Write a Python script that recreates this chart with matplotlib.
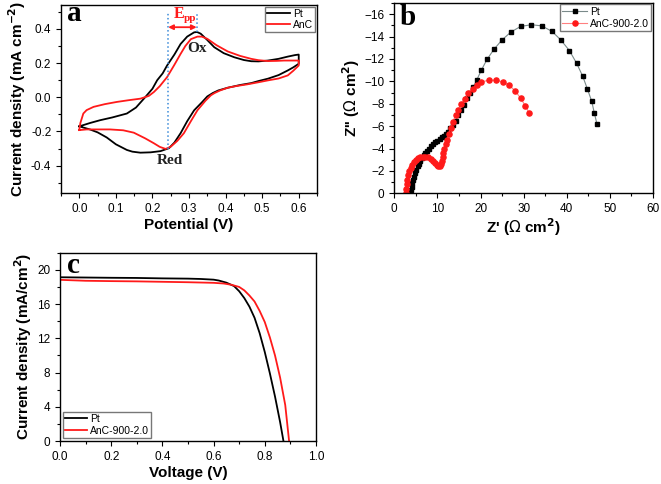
import matplotlib
matplotlib.use("Agg")
import matplotlib.pyplot as plt
from matplotlib.ticker import MultipleLocator, FormatStrFormatter

plt.rcParams['font.family'] = ['Liberation Sans', 'DejaVu Sans']
plt.rcParams['axes.linewidth'] = 1.0

# ---- panel a: cyclic voltammetry (potential V, current mA cm-2)
cv_pt_x = [0, 0.03, 0.057, 0.09, 0.13, 0.155, 0.18, 0.2, 0.213, 0.228, 0.24, 0.26, 0.277, 0.295,
           0.314, 0.322, 0.332, 0.35, 0.369, 0.395, 0.424, 0.45, 0.47, 0.49, 0.516, 0.545, 0.57,
           0.59, 0.6, 0.6, 0.585, 0.57, 0.545, 0.516, 0.49, 0.47, 0.44, 0.406, 0.38, 0.365, 0.35,
           0.335, 0.314, 0.295, 0.277, 0.26, 0.245, 0.222, 0.195, 0.167, 0.145, 0.13, 0.1, 0.075,
           0.05, 0.029, 0.0]
cv_pt_y = [-0.17, -0.15, -0.134, -0.118, -0.095, -0.06, 0.0, 0.05, 0.1, 0.14, 0.186, 0.25, 0.312,
           0.355, 0.38, 0.382, 0.372, 0.335, 0.293, 0.258, 0.234, 0.218, 0.211, 0.21, 0.215, 0.225,
           0.238, 0.247, 0.25, 0.196, 0.175, 0.157, 0.13, 0.109, 0.095, 0.083, 0.072, 0.056, 0.04,
           0.025, 0.005, -0.03, -0.076, -0.14, -0.21, -0.265, -0.298, -0.315, -0.322, -0.324,
           -0.318, -0.308, -0.275, -0.235, -0.205, -0.188, -0.17]
cv_anc_x = [0, 0.003, 0.011, 0.02, 0.039, 0.07, 0.103, 0.135, 0.167, 0.19, 0.204, 0.22, 0.24, 0.26,
            0.277, 0.29, 0.305, 0.323, 0.335, 0.35, 0.375, 0.406, 0.44, 0.47, 0.49, 0.516, 0.54,
            0.56, 0.58, 0.6, 0.6, 0.585, 0.57, 0.545, 0.516, 0.49, 0.46, 0.43, 0.406, 0.385, 0.37,
            0.36, 0.345, 0.323, 0.305, 0.286, 0.268, 0.25, 0.236, 0.22, 0.204, 0.18, 0.149, 0.12,
            0.084, 0.05, 0.02, 0]
cv_anc_y = [-0.19, -0.15, -0.095, -0.075, -0.056, -0.04, -0.027, -0.017, -0.008, 0.008, 0.031,
            0.065, 0.118, 0.19, 0.254, 0.3, 0.34, 0.355, 0.355, 0.342, 0.305, 0.268, 0.242, 0.225,
            0.217, 0.212, 0.213, 0.215, 0.215, 0.215, 0.186, 0.155, 0.128, 0.11, 0.099, 0.088,
            0.076, 0.066, 0.056, 0.04, 0.025, 0.012, -0.02, -0.076, -0.14, -0.21, -0.255, -0.289,
            -0.302, -0.29, -0.269, -0.24, -0.207, -0.193, -0.188, -0.188, -0.188, -0.192]
epp_x = [0.243, 0.321]

# ---- panel b: Nyquist plot (Z' and Z'' in ohm cm2, Z'' negative)
eis_pt_x = [3.72, 3.85, 4.0, 4.2, 4.4, 4.6, 4.85, 5.1, 5.4, 5.7, 6.0, 6.4, 6.8, 7.2, 7.6, 8.0, 8.5,
            9.0, 9.5, 10.0, 10.5, 11.0, 11.5, 12.0, 12.5, 13.0, 13.6, 14.2, 14.8, 15.5, 16.2, 16.9,
            17.6, 18.3, 19.1, 20.2, 21.5, 23.1, 25.0, 27.05, 29.3, 31.8, 34.2, 36.6, 38.6, 40.6,
            42.3, 43.7, 44.8, 45.8, 46.4, 47.0]
eis_pt_y = [0, -0.3, -0.6, -0.9, -1.2, -1.5, -1.8, -2.1, -2.4, -2.65, -2.9, -3.15, -3.4, -3.6,
            -3.8, -4.0, -4.2, -4.4, -4.55, -4.7, -4.85, -5.0, -5.15, -5.3, -5.5, -5.8, -6.1, -6.5,
            -6.95, -7.4, -7.9, -8.5, -9.0, -9.5, -10.1, -11.0, -11.95, -12.85, -13.7, -14.4, -14.9,
            -15.05, -14.95, -14.45, -13.7, -12.75, -11.6, -10.45, -9.3, -8.2, -7.15, -6.2]
eis_anc_x = [2.63, 2.75, 2.9, 3.05, 3.25, 3.5, 3.8, 4.1, 4.5, 5.0, 5.5, 6.0, 6.6, 7.2, 7.8, 8.4,
             8.9, 9.4, 9.8, 10.2, 10.5, 10.8, 11.0, 11.2, 11.4, 11.6, 11.9, 12.2, 12.6, 13.1, 13.6,
             14.2, 14.8, 15.5, 16.35, 17.2, 18.2, 19.1, 20.2, 22.0, 23.6, 25.1, 26.65, 28.0, 29.3,
             30.4, 31.3]
eis_anc_y = [0, -0.4, -0.8, -1.2, -1.6, -2.0, -2.3, -2.55, -2.8, -3.0, -3.12, -3.2, -3.24, -3.25,
             -3.2, -3.08, -2.92, -2.72, -2.55, -2.45, -2.45, -2.6, -2.9, -3.25, -3.6, -4.0, -4.4,
             -4.8, -5.3, -5.8, -6.4, -6.95, -7.45, -7.95, -8.45, -8.95, -9.35, -9.65, -9.95, -10.1,
             -10.1, -9.95, -9.65, -9.15, -8.5, -7.8, -7.15]

# ---- panel c: J-V curves (V, mA/cm2)
jv_pt_v = [0, 0.1, 0.2, 0.3, 0.4, 0.5, 0.55, 0.6, 0.62, 0.65, 0.68, 0.7, 0.72, 0.74, 0.76, 0.78,
           0.8, 0.82, 0.84, 0.86, 0.873]
jv_pt_j = [19.13, 19.1, 19.07, 19.05, 19.0, 18.97, 18.93, 18.85, 18.75, 18.5, 18.1, 17.5, 16.7,
           15.7, 14.4, 12.6, 10.4, 7.9, 5.2, 2.2, 0]
jv_anc_v = [0, 0.1, 0.2, 0.3, 0.4, 0.5, 0.6, 0.64, 0.67, 0.7, 0.72, 0.74, 0.76, 0.78, 0.8, 0.82,
            0.84, 0.86, 0.88, 0.895]
jv_anc_j = [18.83, 18.72, 18.68, 18.65, 18.6, 18.55, 18.48, 18.4, 18.25, 18.0, 17.6, 17.0, 16.3,
            15.2, 13.9, 12.1, 10.0, 7.4, 4.2, 0]

RED = '#ff1a1a'
tick_fs = 8.5
label_fs = 11
serif_bold = dict(family='Liberation Serif', fontweight='bold')
leg_kw = dict(fontsize=7.5, frameon=True, fancybox=False, edgecolor='#555555',
              borderpad=0.2, handletextpad=0.3)

fig = plt.figure(figsize=(6.61, 4.84), dpi=100)
ax_a = fig.add_axes([0.0923, 0.6012, 0.3873, 0.3885])
ax_b = fig.add_axes([0.5965, 0.6006, 0.3914, 0.3934])
ax_c = fig.add_axes([0.0908, 0.0888, 0.3872, 0.3891])

for ax in (ax_a, ax_b, ax_c):
    ax.tick_params(which='both', direction='out', top=False, right=False, labelsize=tick_fs)
    ax.tick_params(which='major', length=3.5, width=0.8)
    ax.tick_params(which='minor', length=2, width=0.8)

# panel a
ax_a.plot(cv_pt_x, cv_pt_y, color='black', lw=1.3, label='Pt')
ax_a.plot(cv_anc_x, cv_anc_y, color=RED, lw=1.3, label='AnC')
ax_a.plot([epp_x[0], epp_x[0]], [-0.304, 0.495], color='#3a8ad8', ls=':', lw=1.1)
ax_a.plot([epp_x[1], epp_x[1]], [0.38, 0.495], color='#3a8ad8', ls=':', lw=1.1)
ax_a.annotate('', xy=(epp_x[0], 0.41), xytext=(epp_x[1], 0.41),
              arrowprops=dict(arrowstyle='<|-|>', color=RED, lw=1.3, mutation_scale=7,
                              shrinkA=0, shrinkB=0))
ax_a.text(0.257, 0.462, 'E', color=RED, fontsize=11.5, ha='left', va='baseline', **serif_bold)
ax_a.text(0.285, 0.449, 'pp', color=RED, fontsize=8, ha='left', va='baseline', **serif_bold)
ax_a.text(0.323, 0.285, 'Ox', fontsize=11, ha='center', va='center', color='#222222', **serif_bold)
ax_a.text(0.247, -0.372, 'Red', fontsize=11, ha='center', va='center', color='#222222',
          **serif_bold)
ax_a.set_xlim(-0.05, 0.65)
ax_a.set_ylim(-0.56, 0.54)
ax_a.xaxis.set_major_locator(MultipleLocator(0.1))
ax_a.xaxis.set_minor_locator(MultipleLocator(0.05))
ax_a.yaxis.set_major_locator(MultipleLocator(0.2))
ax_a.yaxis.set_minor_locator(MultipleLocator(0.1))
ax_a.xaxis.set_major_formatter(FormatStrFormatter('%.1f'))
ax_a.yaxis.set_major_formatter(FormatStrFormatter('%.1f'))
ax_a.set_xlabel('Potential (V)', fontsize=label_fs, fontweight='bold', labelpad=2)
ax_a.set_ylabel(r'Current density (mA cm$^{\mathbf{-2}}$)', fontsize=label_fs, fontweight='bold',
                labelpad=2)
ax_a.text(0.023, 0.915, 'a', transform=ax_a.transAxes, va='baseline', fontsize=21, **serif_bold)
ax_a.legend(loc='upper right', handlelength=2.2, labelspacing=0.1, borderaxespad=0.15, **leg_kw)

# panel b
ax_b.plot(eis_pt_x, eis_pt_y, color='#7a8a8a', lw=0.8, marker='s', ms=3.2, mfc='black',
          mec='black', label='Pt')
ax_b.plot(eis_anc_x, eis_anc_y, color='#ff8080', lw=0.8, marker='o', ms=3.7, mfc=RED,
          mec=RED, label='AnC-900-2.0')
ax_b.set_xlim(0, 60)
ax_b.set_ylim(0, -17)
ax_b.xaxis.set_major_locator(MultipleLocator(10))
ax_b.xaxis.set_minor_locator(MultipleLocator(5))
ax_b.yaxis.set_major_locator(MultipleLocator(2))
ax_b.yaxis.set_minor_locator(MultipleLocator(1))
ax_b.set_xlabel(r"Z' ($\Omega$ cm$^{\mathbf{2}}$)", fontsize=label_fs, fontweight='bold', labelpad=1)
ax_b.set_ylabel(r"Z'' ($\Omega$ cm$^{\mathbf{2}}$)", fontsize=label_fs, fontweight='bold', labelpad=2)
ax_b.text(0.022, 0.885, 'b', transform=ax_b.transAxes, va='baseline', fontsize=21, **serif_bold)
ax_b.legend(loc='upper right', handlelength=2.4, labelspacing=0.2, borderaxespad=0.15, **leg_kw)

# panel c
ax_c.plot(jv_pt_v, jv_pt_j, color='black', lw=1.3, label='Pt')
ax_c.plot(jv_anc_v, jv_anc_j, color=RED, lw=1.3, label='AnC-900-2.0')
ax_c.set_xlim(0, 1.0)
ax_c.set_ylim(0, 22)
ax_c.xaxis.set_major_locator(MultipleLocator(0.2))
ax_c.xaxis.set_minor_locator(MultipleLocator(0.1))
ax_c.yaxis.set_major_locator(MultipleLocator(4))
ax_c.yaxis.set_minor_locator(MultipleLocator(2))
ax_c.xaxis.set_major_formatter(FormatStrFormatter('%.1f'))
ax_c.set_xlabel('Voltage (V)', fontsize=label_fs, fontweight='bold', labelpad=2)
ax_c.set_ylabel(r'Current density (mA/cm$^{\mathbf{2}}$)', fontsize=label_fs, fontweight='bold',
                labelpad=2)
ax_c.text(0.027, 0.892, 'c', transform=ax_c.transAxes, va='baseline', fontsize=21, **serif_bold)
ax_c.legend(loc='lower left', handlelength=2.1, labelspacing=0.2, borderaxespad=0.3, **leg_kw)

fig.savefig('out.png', dpi=100)
